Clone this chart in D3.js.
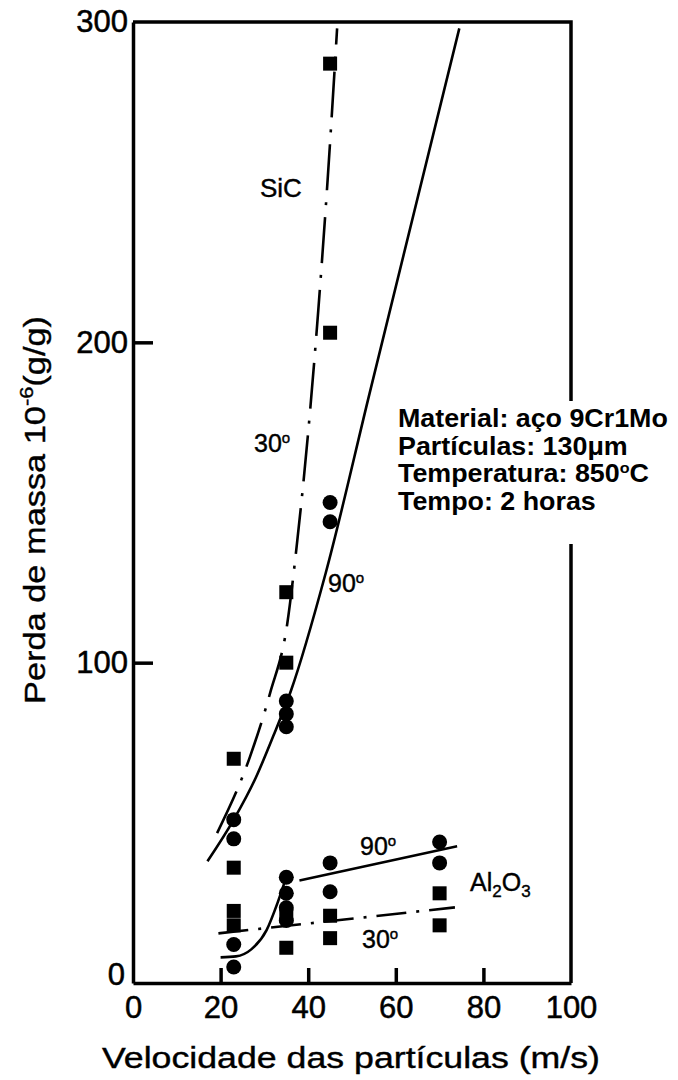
<!DOCTYPE html>
<html>
<head>
<meta charset="utf-8">
<script src="https://cdn.jsdelivr.net/npm/d3@7"></script>
<style>
  html, body { margin: 0; padding: 0; background: #fff; }
  svg { display: block; }
  text { font-family: "Liberation Sans", Arial, sans-serif; fill: #000; }
</style>
</head>
<body>
<svg id="chart" width="678" height="1080"></svg>
<script>
// Axis ticks
const xTicks = [0, 20, 40, 60, 80, 100];
const yTicks = [0, 100, 200, 300];

// Measured points: SiC at 30° (squares)
const sic30Vel  = [23, 35, 35, 45, 45];
const sic30Loss = [70, 100, 122, 203, 287];
// SiC at 90° (circles)
const sic90Vel  = [23, 23, 35, 35, 35, 45, 45];
const sic90Loss = [51, 45, 80, 84, 88, 144, 150];
// Al2O3 at 30° (squares)
const al30Vel  = [23, 23, 23, 35, 35, 45, 45, 70, 70];
const al30Loss = [36, 22.5, 18, 21, 11, 21, 14, 28, 18];
// Al2O3 at 90° (circles)
const al90Vel  = [23, 23, 35, 35, 35, 35, 45, 45, 70, 70];
const al90Loss = [12, 5, 33, 28, 23.5, 19.5, 37.5, 28.5, 44, 37.5];

// Fitted trend curves
const sic30FitVel  = [19.2, 26.7, 31.3, 35.2, 37.5, 40, 42.3, 44.4, 46.6];
const sic30FitLoss = [46.8, 70.6, 90.5, 112, 138, 172, 210, 250, 298];
const sic90FitVel  = [17, 23, 28, 32, 36, 44, 54, 74.5];
const sic90FitLoss = [38, 51, 64, 77, 91, 128, 184, 298];
const al90LowFitVel  = [20, 23.5, 27, 30.5, 33, 34.5];
const al90LowFitLoss = [8, 8.3, 10.5, 16.5, 25, 31];
const al90HighFitVel  = [38, 74];
const al90HighFitLoss = [32, 42.7];
const al30FitVel  = [19.5, 73.5];
const al30FitLoss = [15.5, 23.6];

const svg = d3.select("#chart");
const x = d3.scaleLinear().domain([0, 100]).range([133, 571]);
const y = d3.scaleLinear().domain([0, 300]).range([983, 22]);

const zip = (a, b) => a.map((v, i) => [v, b[i]]);

// Frame (top and right sides)
svg.append("path")
  .attr("d", `M${x(0)},${y(300)}H${x(100)}V${y(0)}`)
  .attr("fill", "none").attr("stroke", "#000").attr("stroke-width", 3.5);

// Axes
const gx = svg.append("g").attr("transform", `translate(0,${y(0)})`)
  .call(d3.axisBottom(x).tickValues(xTicks).tickSizeInner(-15).tickSizeOuter(0).tickPadding(13));
const gy = svg.append("g").attr("transform", `translate(${x(0)},0)`)
  .call(d3.axisLeft(y).tickValues(yTicks).tickSizeInner(-20).tickSizeOuter(0).tickPadding(5));

[gx, gy].forEach(g => {
  g.select(".domain").attr("stroke", "#000").attr("stroke-width", 3.5);
  g.selectAll(".tick line").attr("stroke", "#000").attr("stroke-width", 3.5);
  g.selectAll(".tick text").attr("font-size", 31).attr("fill", "#000")
    .attr("stroke", "#000").attr("stroke-width", 0.5)
    .attr("font-family", "Liberation Sans, Arial, sans-serif");
});
gx.selectAll(".tick").filter(d => d === 0 || d === 100).select("line").remove();
gy.selectAll(".tick").filter(d => d === 0 || d === 300).select("line").remove();
gy.selectAll(".tick").filter(d => d === 0).select("text").attr("dy", "0.05em").attr("x", -8);

// Axis titles
svg.append("text")
  .attr("x", 351).attr("y", 1068)
  .attr("text-anchor", "middle").attr("font-size", 30)
  .attr("stroke", "#000").attr("stroke-width", 0.4)
  .attr("textLength", 498).attr("lengthAdjust", "spacingAndGlyphs")
  .text("Velocidade das partículas (m/s)");

const yt = svg.append("text")
  .attr("transform", "translate(45,510) rotate(-90)")
  .attr("text-anchor", "middle").attr("font-size", 30)
  .attr("stroke", "#000").attr("stroke-width", 0.4)
  .attr("textLength", 388).attr("lengthAdjust", "spacingAndGlyphs");
yt.append("tspan").text("Perda de massa 10");
yt.append("tspan").attr("font-size", 19).attr("dy", -12).text("-6");
yt.append("tspan").attr("dy", 12).text("(g/g)");

// Trend curves
const line = d3.line().x(d => x(d[0])).y(d => y(d[1])).curve(d3.curveMonotoneX);
const curves = [
  { pts: zip(sic30FitVel, sic30FitLoss), dash: "46,12,3,12" },
  { pts: zip(sic90FitVel, sic90FitLoss), dash: null },
  { pts: zip(al90LowFitVel, al90LowFitLoss), dash: null },
  { pts: zip(al90HighFitVel, al90HighFitLoss), dash: null },
  { pts: zip(al30FitVel, al30FitLoss), dash: "30,10,3,10" }
];
svg.append("g").selectAll("path").data(curves).join("path")
  .attr("d", d => line(d.pts))
  .attr("fill", "none").attr("stroke", "#000").attr("stroke-width", 2.6)
  .attr("stroke-dasharray", d => d.dash);

// Markers
const sq = 14, rc = 7.5;
const squares = [...zip(sic30Vel, sic30Loss), ...zip(al30Vel, al30Loss)];
const circles = [...zip(sic90Vel, sic90Loss), ...zip(al90Vel, al90Loss)];
svg.append("g").selectAll("rect").data(squares).join("rect")
  .attr("x", d => x(d[0]) - sq / 2).attr("y", d => y(d[1]) - sq / 2)
  .attr("width", sq).attr("height", sq).attr("fill", "#000");
svg.append("g").selectAll("circle").data(circles).join("circle")
  .attr("cx", d => x(d[0])).attr("cy", d => y(d[1])).attr("r", rc).attr("fill", "#000");

// Curve labels
function angleLabel(px, py, num) {
  const t = svg.append("text").attr("x", px).attr("y", py).attr("font-size", 25)
    .attr("stroke", "#000").attr("stroke-width", 0.4);
  t.append("tspan").text(num);
  t.append("tspan").attr("font-size", 15).attr("dy", -9).text("o");
}
svg.append("text").attr("x", 260).attr("y", 197).attr("font-size", 26)
  .attr("stroke", "#000").attr("stroke-width", 0.4).text("SiC");
angleLabel(254, 452, "30");
angleLabel(328, 592, "90");
angleLabel(360, 855, "90");
angleLabel(362, 948, "30");

const al = svg.append("text").attr("x", 470).attr("y", 891).attr("font-size", 25)
  .attr("stroke", "#000").attr("stroke-width", 0.4);
al.append("tspan").text("Al");
al.append("tspan").attr("font-size", 17).attr("dy", 6).text("2");
al.append("tspan").attr("dy", -6).text("O");
al.append("tspan").attr("font-size", 17).attr("dy", 6).text("3");

// Test conditions box
svg.append("rect").attr("x", 392).attr("y", 401).attr("width", 284).attr("height", 143).attr("fill", "#fff");
const info = svg.append("g").attr("font-weight", "bold");
const rows = [
  [["Material: aço 9Cr1Mo"]],
  [["Partículas: 130μm"]],
  [["Temperatura: 850"], ["o", true], ["C"]],
  [["Tempo: 2 horas"]]
];
const texts = rows.map((parts, i) => {
  const t = info.append("text").attr("x", 0).attr("y", 0).attr("font-size", 25)
    .attr("transform", `translate(398,${427 + i * 27.7})`);
  parts.forEach(([s, sup]) => {
    if (sup) t.append("tspan").attr("font-size", 15).attr("dy", -9).text(s);
    else t.append("tspan").attr("dy", parts.length > 1 && s === "C" ? 9 : 0).text(s);
  });
  return t;
});
const w0 = texts[0].node().getComputedTextLength();
const sx = 270 / w0;
texts.forEach((t, i) => t.attr("transform", `translate(398,${427 + i * 27.7}) scale(${sx},1)`));
</script>
</body>
</html>
